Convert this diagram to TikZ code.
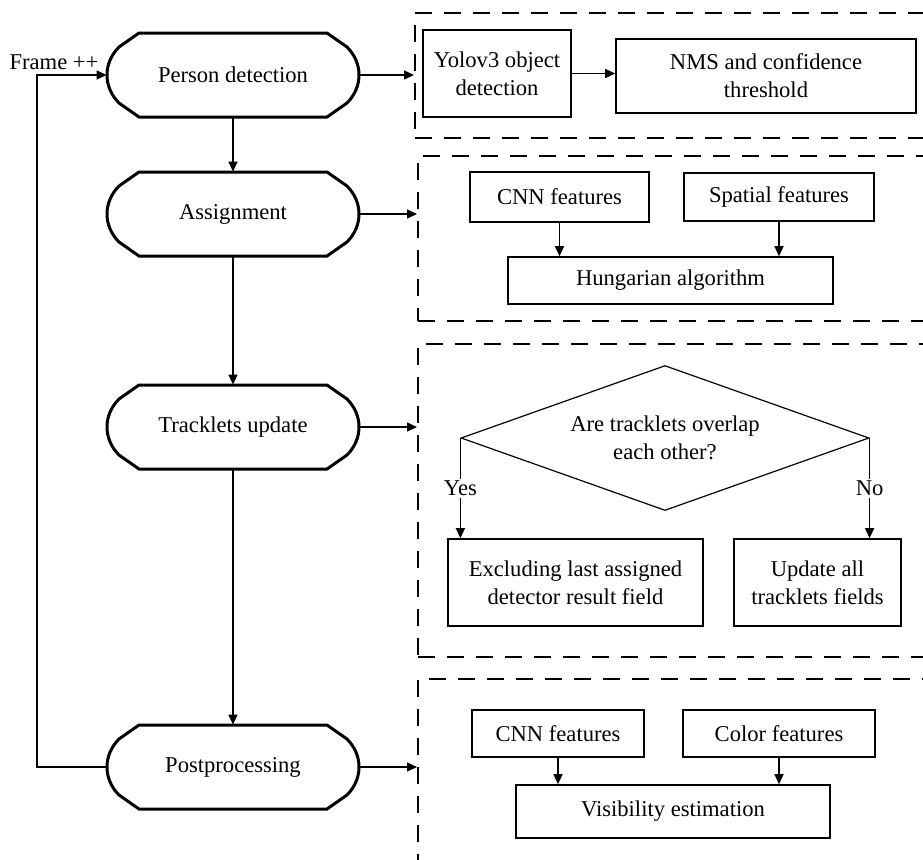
\documentclass[tikz,border=0pt]{standalone}
\usepackage{fontspec}
\setmainfont{Liberation Serif}
\usetikzlibrary{arrows.meta}
\usetikzlibrary{shapes.geometric}

\tikzset{
  stage/.style={minimum width=126pt, minimum height=42pt, inner sep=0pt},
  stageline/.style={line width=1.5pt, line join=round},
  procbox/.style={draw, line width=0.8pt, align=center, inner sep=0pt},
  groupbox/.style={draw, line width=0.75pt, dash pattern=on 8.5pt off 6pt,
    anchor=north west, inner sep=0pt},
  arr/.style={line width=0.7pt, -{Triangle[length=5pt,width=4.5pt]}},
}

% outline of a stage node (flat top and bottom, bulging sides)
\newcommand\stageoutline[1]{%
  \begin{scope}[shift={(#1.center)}]
    \draw[stageline] (-94,-42) -- (94,-42) -- (114,-28)
      .. controls (122,-20) and (126,-10) .. (126,0)
      .. controls (126,10) and (122,20) .. (114,28) -- (94,42) -- (-94,42) -- (-114,28)
      .. controls (-122,20) and (-126,10) .. (-126,0)
      .. controls (-126,-10) and (-122,-20) .. (-114,-28) -- cycle;
  \end{scope}}

\begin{document}
\begin{tikzpicture}[x=0.5pt, y=-0.5pt, font=\fontsize{11.3}{14}\selectfont]
\useasboundingbox (0,0) rectangle (923,859);
\clip (0,0) rectangle (923,859);

% main loop
\node[stage] (person) at (233,75) {Person detection};
\node[stage] (assign) at (233,214) {Assignment};
\node[stage] (track) at (233,427) {Tracklets update};
\node[stage] (post) at (233,767) {Postprocessing};
\foreach \n in {person,assign,track,post} {\stageoutline{\n}}
\node (frame) at (54,62) {Frame ++};

% dashed groups
\node[groupbox, minimum width=263pt, minimum height=62.5pt] (grp1) at (414,12) {};
\node[groupbox, minimum width=261.5pt, minimum height=82.5pt] (grp2) at (417,155) {};
\node[groupbox, minimum width=261.5pt, minimum height=156.5pt] (grp3) at (417,343) {};
\node[groupbox, minimum width=261.5pt, minimum height=100pt] (grp4) at (417,678) {};

\node[procbox, minimum width=74pt, minimum height=43.5pt] (yolo) at (497,73.5) {Yolov3 object\\detection};
\node[procbox, minimum width=150pt, minimum height=37pt] (nms) at (766,76) {NMS and confidence\\threshold};

\node[procbox, minimum width=89.5pt, minimum height=25pt] (cnnA) at (559.5,197) {CNN features};
\node[procbox, minimum width=95pt, minimum height=24pt] (spatial) at (779,197) {Spatial features};
\node[procbox, minimum width=162.5pt, minimum height=23.5pt] (hung) at (670.5,280.5) {Hungarian algorithm};

\node[draw, diamond, line width=0.6pt, shape aspect=2.8, minimum width=204pt, minimum height=72.5pt,
  inner sep=0pt, align=center] (overlap) at (665,438) {Are tracklets overlap\\each other?};
\node[procbox, minimum width=127.5pt, minimum height=43.5pt] (excl) at (575.5,582.5) {Excluding last assigned\\detector result field};
\node[procbox, minimum width=83.5pt, minimum height=43.5pt] (upd) at (817.5,582.5) {Update all\\tracklets fields};

\node[procbox, minimum width=86pt, minimum height=23.5pt] (cnnB) at (558,733.5) {CNN features};
\node[procbox, minimum width=96pt, minimum height=23.5pt] (color) at (779,733.5) {Color features};
\node[procbox, minimum width=157pt, minimum height=26.5pt] (vis) at (673,811.5) {Visibility estimation};

% connectors
\draw[arr] (person.south) -- (assign.north);
\draw[arr] (assign.south) -- (track.north);
\draw[arr] (track.south) -- (post.north);
\coordinate (loop) at (37,420);
\draw[arr] (post.west) -| (loop) |- (person.west);

\draw[arr] (person.east) -- (person.east -| grp1.west);
\draw[arr] (assign.east) -- (assign.east -| grp2.west);
\draw[arr] (track.east) -- (track.east -| grp3.west);
\draw[arr] (post.east) -- (post.east -| grp4.west);

\draw[arr] (yolo.east) -- (yolo.east -| nms.west);
\draw[arr] (cnnA.south) -- (cnnA.south |- hung.north);
\draw[arr] (spatial.south) -- (spatial.south |- hung.north);
\draw[arr] (overlap.west) -- node[fill=white, inner sep=1pt] {Yes} (overlap.west |- excl.north);
\draw[arr] (overlap.east) -- node[fill=white, inner sep=1pt] {No} (overlap.east |- upd.north);
\draw[arr] (cnnB.south) -- (cnnB.south |- vis.north);
\draw[arr] (color.south) -- (color.south |- vis.north);
\end{tikzpicture}
\end{document}
